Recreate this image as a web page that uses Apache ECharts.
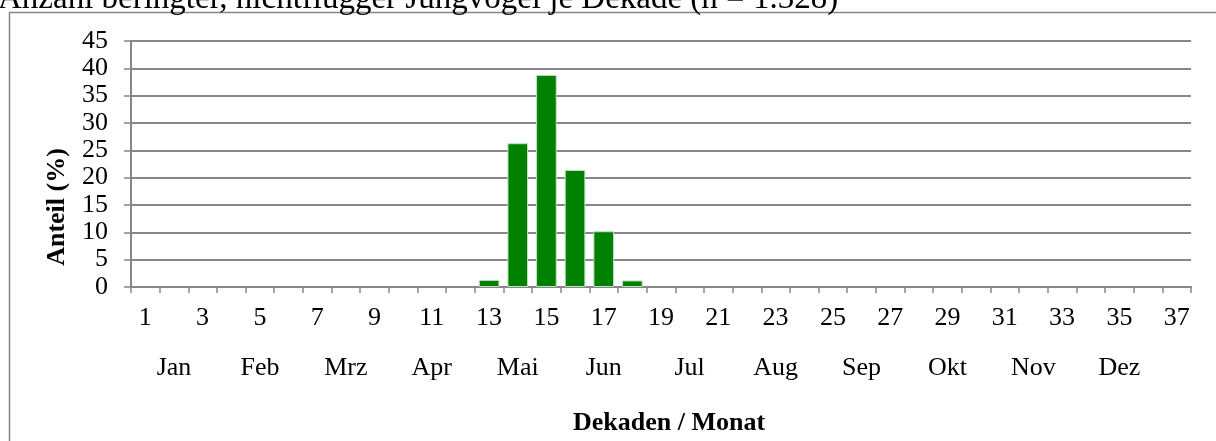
<!DOCTYPE html>
<html>
<head>
<meta charset="utf-8">
<script src="https://cdn.jsdelivr.net/npm/echarts@6/dist/echarts.min.js"></script>
<style>
  html, body { margin: 0; padding: 0; background: #fff; }
  #chart { width: 1216px; height: 441px; }
</style>
</head>
<body>
<div id="chart"></div>
<script>
// Dekaden 1..37
var decades = [];
for (var i = 1; i <= 37; i++) decades.push(String(i));

// Monatsnamen, je 3 Dekaden, unter der mittleren Dekade
var monthNames = ['Jan', 'Feb', 'Mrz', 'Apr', 'Mai', 'Jun', 'Jul', 'Aug', 'Sep', 'Okt', 'Nov', 'Dez'];
var monthRow = decades.map(function (d, idx) {
  return (idx % 3 === 1 && idx < 36) ? monthNames[(idx - 1) / 3] : '';
});

// Anteil (%) je Dekade
var shares = [0, 0, 0, 0, 0, 0, 0, 0, 0, 0, 0, 0,
  1.3, 26.3, 38.8, 21.4, 10.2, 1.2,
  0, 0, 0, 0, 0, 0, 0, 0, 0, 0, 0, 0, 0, 0, 0, 0, 0, 0, 0];
var yTicks = { min: 0, max: 45, interval: 5 };

var fontFam = '"Liberation Serif", "Times New Roman", serif';
var gray = '#868686';
var fs = 26;

var chart = echarts.init(document.getElementById('chart'), null, { renderer: 'canvas' });
chart.setOption({
  animation: false,
  backgroundColor: '#fff',
  grid: { left: 131, right: 25, top: 41, bottom: 154, containLabel: false },
  graphic: [
    {
      type: 'rect', z: 0, silent: true,
      shape: { x: 9.5, y: 12.5, width: 1300, height: 500 },
      style: { fill: 'none', stroke: gray, lineWidth: 1.5 }
    },
    {
      // Titel, oben abgeschnitten wie im Original
      type: 'text', x: -2, y: 16,
      style: { text: 'Anzahl beringter, nichtflügger Jungvögel je Dekade (n = 1.328)',
        font: '33px ' + fontFam, fill: '#000', verticalAlign: 'bottom' }
    },
    {
      type: 'text', x: 57, y: 207, rotation: Math.PI / 2,
      style: { text: 'Anteil (%)', font: 'bold ' + fs + 'px ' + fontFam, fill: '#000',
        align: 'center', verticalAlign: 'middle' }
    },
    {
      type: 'text', x: 669, y: 423,
      style: { text: 'Dekaden / Monat', font: 'bold ' + fs + 'px ' + fontFam, fill: '#000',
        align: 'center', verticalAlign: 'middle' }
    }
  ],
  xAxis: [
    {
      type: 'category',
      data: decades,
      axisLine: { lineStyle: { color: gray, width: 2 } },
      axisTick: { show: true, interval: 0, length: 6, lineStyle: { color: gray, width: 1.5 } },
      axisLabel: { interval: 1, margin: 18, color: '#000', fontFamily: fontFam, fontSize: fs },
      splitLine: { show: false }
    },
    {
      type: 'category',
      position: 'bottom',
      data: monthRow,
      axisLine: { show: false },
      axisTick: { show: false },
      axisLabel: { interval: 0, margin: 68, color: '#000', fontFamily: fontFam, fontSize: fs },
      splitLine: { show: false }
    }
  ],
  yAxis: {
    type: 'value',
    min: yTicks.min, max: yTicks.max, interval: yTicks.interval,
    axisLine: { show: true, lineStyle: { color: gray, width: 2 } },
    axisTick: { show: true, length: 7, lineStyle: { color: gray, width: 1.5 } },
    axisLabel: { margin: 23, color: '#000', fontFamily: fontFam, fontSize: fs },
    splitLine: { show: true, lineStyle: { color: gray, width: 2 } }
  },
  series: [
    {
      name: 'Anteil',
      type: 'bar',
      xAxisIndex: 0,
      // leere Dekaden nicht zeichnen (kein Rand auf der Achse)
      data: shares.map(function (v) { return v === 0 ? '-' : v; }),
      barCategoryGap: '28%',
      itemStyle: { color: '#008000', borderColor: '#bfe0bf', borderWidth: 1 }
    }
  ]
});
</script>
</body>
</html>
